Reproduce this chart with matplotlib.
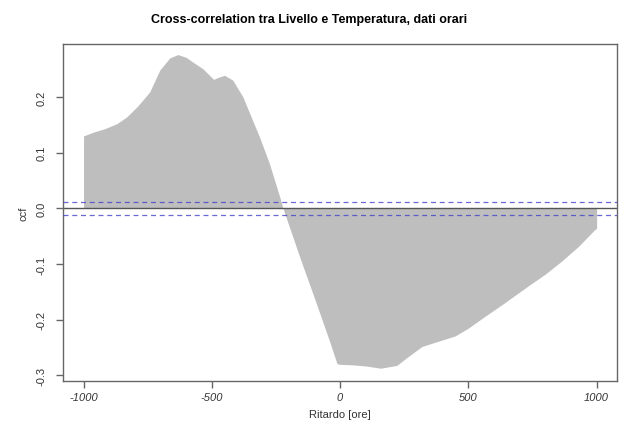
import matplotlib
matplotlib.use("Agg")
import matplotlib.pyplot as plt
import numpy as np

plt.rcParams['font.family'] = ['Liberation Sans', 'DejaVu Sans']

# Lags (hours) and cross-correlation values
lags = [-1000, -960, -917, -870, -832, -790, -742, -703, -664, -632, -600, -574,
        -535, -493, -470, -450, -418, -379, -315, -276, -230, -224,
        -160, -94, -40, -12, 0, 50, 100, 158, 221, 260, 319, 380, 449,
        500, 552, 640, 734, 800, 863, 930, 993, 1000]
ccf = [0.130, 0.137, 0.143, 0.152, 0.164, 0.183, 0.209, 0.248, 0.270, 0.276, 0.271, 0.2625,
       0.2506, 0.2315, 0.236, 0.2387, 0.230, 0.200, 0.129, 0.081, 0.0125, 0.002,
       -0.084, -0.169, -0.240, -0.279, -0.280, -0.281, -0.283, -0.287, -0.282, -0.268, -0.248, -0.239, -0.229,
       -0.215, -0.198, -0.170, -0.139, -0.118, -0.095, -0.068, -0.038, -0.036]
conf = 0.012
xticks = [-1000, -500, 0, 500, 1000]
yticks = [-0.3, -0.2, -0.1, 0.0, 0.1, 0.2]

fig = plt.figure(figsize=(6.19, 4.35), dpi=100)
ax = fig.add_axes([0.1018, 0.1218, 0.8952, 0.7748])

lags_a = np.array(lags, dtype=float)
ccf_a = np.array(ccf, dtype=float)
ax.fill_between(lags_a, 0, ccf_a, color='#BEBEBE', linewidth=0, zorder=1)
ax.axhline(0, color='#555555', linewidth=1.0, zorder=2)
ax.axhline(conf, color='#4444CC', linestyle=(0, (4, 3)), linewidth=0.9, alpha=0.8, zorder=3)
ax.axhline(-conf, color='#4444CC', linestyle=(0, (4, 3)), linewidth=0.9, alpha=0.8, zorder=3)

ax.set_xlim(-1080, 1080)
ax.set_ylim(-0.31, 0.295)

ax.set_xticks(xticks)
ax.set_xticklabels([str(v) for v in xticks], fontstyle='italic', fontsize=8, color='#333333')
ax.set_yticks(yticks)
ax.set_yticklabels([f"{v:.1f}" for v in yticks], rotation=90, va='center', fontsize=8, color='#333333')

for sp in ax.spines.values():
    sp.set_color('#666666')
    sp.set_linewidth(1.0)
ax.tick_params(axis='both', colors='#666666', labelcolor='#333333', length=5, width=1.0)
ax.tick_params(axis='x', pad=3)
ax.tick_params(axis='y', pad=7)

ax.set_xlabel('Ritardo [ore]', fontsize=8, color='#333333', labelpad=5)
ax.set_ylabel('ccf', fontsize=8, color='#333333', labelpad=6)
fig.suptitle('Cross-correlation tra Livello e Temperatura, dati orari', fontsize=9,
             fontweight='bold', y=0.968)

fig.savefig('out.png', dpi=100)
